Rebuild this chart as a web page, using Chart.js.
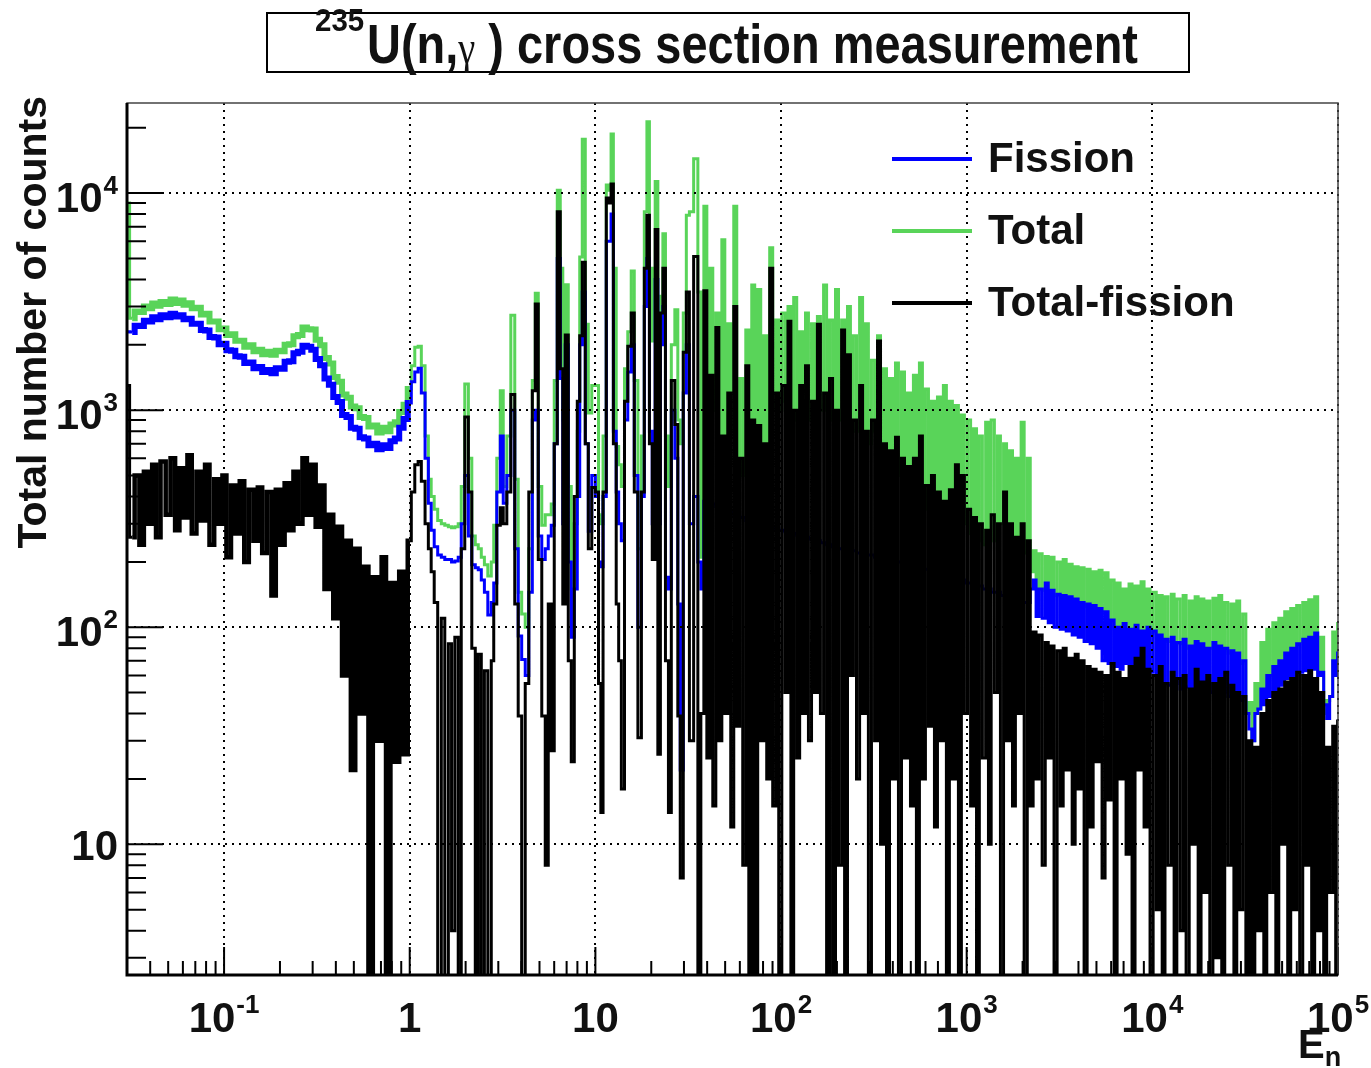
<!DOCTYPE html>
<html>
<head>
<meta charset="utf-8">
<title>235U(n,gamma) cross section measurement</title>
<script src="https://cdn.jsdelivr.net/npm/chart.js@4.4.1/dist/chart.umd.min.js"></script>
<style>
  html, body { margin: 0; padding: 0; background: #fff; }
</style>
</head>
<body>
<canvas id="chart" width="1371" height="1068"></canvas>
<script>
// Neutron energy (eV), bin centres
const energy = [
  // thermal region 0.03 - 1 eV
  0.030,0.032,0.034,0.036,0.038,0.040,0.042,0.044,0.047,0.050,0.053,0.056,0.059,0.062,0.065,0.069,0.073,0.077,0.081,0.086,
  0.091,0.096,0.100,0.106,0.112,0.118,0.125,0.132,0.140,0.148,0.156,0.165,0.175,0.185,0.195,0.206,0.218,0.230,0.243,0.257,
  0.272,0.287,0.303,0.320,0.338,0.357,0.377,0.398,0.420,0.444,0.469,0.495,0.523,0.552,0.583,0.616,0.650,0.687,0.725,0.766,
  0.809,0.854,0.902,0.952,1.000,
  // resolved resonances 1 - 33 eV
  1.04,1.09,1.13,1.18,1.24,1.28,1.33,1.38,1.45,1.51,1.58,1.65,1.71,1.79,1.86,1.93,2.03,2.11,2.21,2.30,
  2.38,2.48,2.57,2.70,2.80,2.87,3.02,3.13,3.25,3.42,3.59,3.77,3.91,4.11,4.27,4.49,4.66,4.83,5.02,5.27,
  5.47,5.68,5.89,6.12,6.35,6.59,6.76,7.01,7.28,7.55,7.85,8.13,8.34,8.66,8.99,9.33,9.80,10.2,10.6,10.8,
  11.2,11.7,12.0,12.3,12.7,13.2,13.5,14.1,14.6,15.3,15.9,16.5,17.4,18.0,18.7,19.2,19.9,20.6,21.4,22.0,
  22.8,23.4,24.3,25.2,26.1,27.5,28.1,29.2,30.3,31.5,32.7,
  // dense resonances 35 eV - 2.2 keV
  35,36.3,37.7,39.1,40.6,42.1,43.7,45.4,47.1,48.9,50.7,52.6,54.6,56.7,58.8,61.0,63.4,65.8,68.3,70.8,
  73.5,76.3,79.2,82.2,85.3,88.5,91.9,95.4,99.0,
  103,107,111,115,119,124,128,133,138,143,149,154,160,166,173,179,186,193,200,208,
  216,224,232,241,250,260,270,280,290,301,313,325,337,350,363,377,391,406,421,437,
  454,471,489,507,526,546,567,588,611,634,658,683,709,735,763,792,822,853,886,919,954,990,
  1030,1070,1110,1150,1190,1240,1290,1330,1380,1440,1490,1550,1610,1670,1730,1800,1860,1930,2000,2080,2160,2240,
  // unresolved region 2.3 - 100 keV
  2320,2410,2500,2600,2700,2800,2900,3010,3130,3250,3370,3500,3630,3770,3910,4060,4210,4370,4540,4710,
  4890,5070,5260,5460,5670,5880,6110,6340,6580,6830,7090,7350,7630,7920,8220,8530,8860,9190,9540,9900,
  10300,10700,11100,11500,11900,12400,12900,13300,13800,14400,14900,15500,16100,16700,17300,18000,18600,19300,20000,20800,
  21600,22400,23200,24100,25000,26000,27000,28000,29000,30100,31300,32500,33700,35000,36300,37700,39100,40600,42100,43700,
  45400,47100,48900,50700,52600,54600,56700,58800,61000,63400,65800,68300,70800,73500,76300,79200,82200,85300,88500,91900,
  95400,99000,100000
];

// Total counts
const total = [
  9000,2650,2850,2830,3000,2950,3100,3030,3150,3080,3230,3120,3200,3060,3110,2950,2960,2760,2780,2560,
  2560,2360,2380,2220,2240,2090,2090,1960,1990,1870,1900,1810,1860,1800,1880,1870,2000,2010,2190,2220,
  2400,2360,2350,2110,1990,1740,1640,1420,1350,1180,1140,1040,1020,930,920,840,850,790,830,800,
  860,880,980,1060,1250,
  1600,1950,1970,1600,760,480,400,350,310,300,295,290,287,290,300,445,1320,600,263,240,
  230,210,194,172,200,295,600,1230,445,760,2740,480,145,115,100,230,1370,3460,445,295,
  330,330,370,1370,10300,4500,900,3780,445,150,300,800,5080,17700,2490,970,1300,1300,330,300,
  760,10900,10300,18700,4500,680,560,445,1550,2300,4370,1370,230,760,8200,21300,4500,2080,11300,1370,
  3350,6500,760,445,2000,2900,900,700,2800,7900,8200,
  14400,3500,210,8700,1000,4500,1000,2800,600,6100,600,2500,800,8700,500,1400,500,2340,700,3770,
  700,3600,550,2200,600,5600,1000,2600,1000,2800,1100,3000,800,3300,900,2300,1000,2800,900,2500,
  900,2700,1000,3770,1000,2600,900,3600,900,2600,1500,3000,800,2200,800,3300,700,2500,700,1700,
  800,2200,600,1550,550,1400,550,1650,500,1500,450,1200,450,1450,500,1650,350,1250,350,1100,
  350,1150,320,1300,320,1100,380,1050,380,950,300,900,270,820,250,760,240,880,250,900,
  250,760,300,700,250,650,220,600,240,880,220,600,180,
  225,150,218,148,212,145,210,140,200,138,205,135,195,132,190,128,188,125,185,124,
  180,120,183,116,178,106,165,98,160,100,150,96,158,98,155,94,162,95,150,94,
  145,90,140,86,138,86,142,84,135,84,140,80,132,82,138,82,135,78,132,80,
  136,80,140,78,130,76,128,74,132,68,115,40,45,30,55,42,85,52,98,60,
  105,66,110,72,118,76,122,82,126,86,130,88,134,90,138,60,90,40,46,48,
  95,70,104
];

// Fission counts
const fission = [
  2300,2290,2450,2440,2580,2560,2680,2620,2740,2680,2780,2700,2740,2620,2640,2500,2500,2340,2330,2170,
  2160,2010,2020,1890,1880,1770,1760,1650,1660,1560,1580,1500,1530,1480,1560,1550,1670,1680,1830,1860,
  1980,1960,1900,1720,1610,1400,1310,1150,1090,950,930,830,820,750,740,690,700,660,690,670,
  720,740,830,910,1080,
  1350,1500,1560,1200,600,373,280,235,215,210,205,205,200,202,210,300,500,263,194,188,
  184,165,145,114,130,160,420,760,373,500,1000,230,91,71,60,145,900,1000,263,205,
  230,263,295,700,5000,1400,300,2000,200,90,150,400,2000,3500,700,277,500,400,200,190,
  400,6000,6000,8000,800,420,300,250,900,1500,2000,500,100,400,3000,5000,800,300,4000,300,
  2000,3000,170,150,1000,600,128,22,1200,2000,300,
  400,200,150,380,380,370,370,360,360,350,350,340,340,330,330,320,320,310,310,300,
  300,300,295,295,290,290,285,285,280,280,275,275,270,270,265,265,260,260,255,255,
  250,250,245,245,240,240,235,235,230,230,230,225,225,225,220,220,220,215,215,215,
  210,210,210,205,205,205,200,200,200,195,195,195,190,190,190,185,185,185,180,180,
  180,175,175,175,170,170,170,165,165,165,160,160,160,155,155,155,150,150,150,145,
  145,145,140,140,140,135,135,135,130,130,130,130,150,
  165,112,150,110,160,105,148,100,142,98,140,96,138,92,135,90,130,86,128,84,
  126,80,122,70,118,68,108,66,100,64,104,68,98,66,102,64,96,66,100,62,
  96,58,92,56,88,54,90,55,85,52,88,53,82,50,86,52,84,50,80,50,
  85,52,82,50,80,48,78,50,76,46,70,40,34,30,40,42,52,44,60,48,
  66,50,70,54,76,58,80,60,84,62,88,63,90,64,94,60,62,44,38,48,
  70,60,76
];

// Total - fission counts
const totalMinusFission = [
  1300,260,500,240,520,300,560,260,580,330,600,280,540,320,620,270,520,310,560,240,
  480,300,500,210,450,270,470,200,430,250,440,220,420,140,430,240,460,280,520,300,
  600,330,560,290,450,150,330,110,290,60,250,22,230,40,190,1,170,30,210,1,
  160,24,180,26,250,
  420,560,580,470,300,230,180,130,1,110,1,84,4,90,1,230,930,420,80,1,
  75,1,63,1,70,128,295,355,300,420,1180,128,39,1,55,420,1230,3080,205,39,
  8,128,27,700,8200,1550,128,2220,70,24,400,1100,2200,4800,700,230,440,420,55,14,
  420,9500,9000,11000,700,128,70,18,1100,1970,2800,420,31,420,4500,7900,700,205,6800,26,
  2800,4500,70,14,1370,860,39,7,1850,3500,30,
  5100,1,40,3550,25,1450,15,2400,30,760,40,1200,12,3000,35,600,8,1600,1,900,
  1,850,30,700,20,4500,15,1200,1,1300,50,2570,1,1000,25,1300,40,1600,30,1100,
  50,2490,40,1200,1,1400,1,1000,8,2340,1,1800,60,900,20,1300,40,800,1,900,
  30,2080,10,700,1,650,20,750,1,600,25,550,15,600,1,760,20,450,35,500,
  12,420,30,380,1,430,20,560,1,500,40,350,15,320,1,300,25,280,10,330,
  50,300,1,420,30,300,15,260,40,300,1,250,15,
  95,20,92,8,85,25,82,1,78,15,80,22,72,10,75,18,70,1,66,12,
  64,24,62,7,60,16,68,1,62,20,58,9,66,1,72,22,80,12,64,1,
  60,5,66,1,55,8,62,1,58,4,60,1,52,10,64,1,56,6,60,1,
  55,3,58,1,62,8,54,1,50,5,48,1,30,1,28,4,40,1,46,6,
  50,1,52,10,56,1,58,5,62,1,60,8,63,1,58,4,50,1,28,6,
  35,1,37
];

// Axis labels
const xTickValues = [0.1, 1, 10, 100, 1000, 10000, 100000];
const xTickBase = ['10', '1', '10', '10', '10', '10', '10'];
const xTickExp = ['-1', '', '', '2', '3', '4', '5'];
const yTickValues = [10, 100, 1000, 10000];
const yTickBase = ['10', '10', '10', '10'];
const yTickExp = ['', '2', '3', '4'];

const SANS = '"Liberation Sans", Arial, Helvetica, sans-serif';
const SERIF = '"Liberation Serif", "Times New Roman", serif';

function toPoints(values) {
  return values.map((v, i) => ({ x: energy[i], y: v }));
}

// 1..9 x 10^n ticks, like the ROOT axis
function decadeTicks(scale) {
  const ticks = [];
  const lo = Math.floor(Math.log10(scale.min));
  const hi = Math.ceil(Math.log10(scale.max));
  for (let e = lo; e <= hi; e++) {
    for (let s = 1; s <= 9; s++) {
      const v = s * Math.pow(10, e);
      if (v >= scale.min * 0.999 && v <= scale.max * 1.001) ticks.push({ value: v, major: s === 1 });
    }
  }
  scale.ticks = ticks;
}

function powerText(ctx, base, exp, x, yBase, yExp, align) {
  ctx.font = 'bold 42px ' + SANS;
  const wb = ctx.measureText(base).width;
  ctx.font = 'bold 26px ' + SANS;
  const we = exp ? ctx.measureText(exp).width + 1 : 0;
  const left = align === 'center' ? x - (wb + we) / 2 : x - (wb + we);
  ctx.textAlign = 'left';
  ctx.font = 'bold 42px ' + SANS;
  ctx.fillText(base, left, yBase);
  if (exp) {
    ctx.font = 'bold 26px ' + SANS;
    ctx.fillText(exp, left + wb + 1, yExp);
  }
}

const rootStyle = {
  id: 'rootStyle',
  afterDraw(chart) {
    const { ctx, chartArea: a } = chart;
    const xs = chart.scales.x, ys = chart.scales.y;
    ctx.save();

    // tick marks inside the frame
    ctx.strokeStyle = '#000';
    ctx.lineWidth = 2;
    ctx.beginPath();
    xs.ticks.forEach(t => {
      const px = xs.getPixelForValue(t.value);
      const len = t.major ? 28 : 14;
      ctx.moveTo(px, a.bottom);
      ctx.lineTo(px, a.bottom - len);
    });
    ys.ticks.forEach(t => {
      const py = ys.getPixelForValue(t.value);
      const len = t.major ? 36 : 19;
      ctx.moveTo(a.left, py);
      ctx.lineTo(a.left + len, py);
    });
    ctx.stroke();

    // frame
    ctx.lineWidth = 1.5;
    ctx.strokeStyle = '#444';
    ctx.strokeRect(a.left, a.top, a.right - a.left, a.bottom - a.top);
    ctx.lineWidth = 3;
    ctx.strokeStyle = '#000';
    ctx.beginPath();
    ctx.moveTo(a.left, a.top);
    ctx.lineTo(a.left, a.bottom);
    ctx.lineTo(a.right, a.bottom);
    ctx.stroke();

    // tick labels
    ctx.fillStyle = '#111';
    ctx.textBaseline = 'alphabetic';
    xTickValues.forEach((v, i) => {
      powerText(ctx, xTickBase[i], xTickExp[i], xs.getPixelForValue(v), 1032, 1013, 'center');
    });
    yTickValues.forEach((v, i) => {
      const py = ys.getPixelForValue(v);
      const hasExp = yTickExp[i] !== '';
      powerText(ctx, yTickBase[i], yTickExp[i], 118, py + (hasExp ? 19 : 16), py + 1, 'right');
    });

    // axis titles
    ctx.save();
    ctx.translate(46, 96);
    ctx.rotate(-Math.PI / 2);
    ctx.textAlign = 'right';
    ctx.font = 'bold 41px ' + SANS;
    ctx.fillText('Total number of counts', 0, 0);
    ctx.restore();
    ctx.textAlign = 'left';
    ctx.font = 'bold 40px ' + SANS;
    ctx.fillText('E', 1298, 1058);
    const wE = ctx.measureText('E').width;
    ctx.font = 'bold 27px ' + SANS;
    ctx.fillText('n', 1298 + wE, 1066);

    // legend
    const rows = [159, 231, 303];
    chart.data.datasets.forEach((ds, i) => {
      ctx.strokeStyle = ds.borderColor;
      ctx.lineWidth = 4;
      ctx.beginPath();
      ctx.moveTo(892, rows[i]);
      ctx.lineTo(972, rows[i]);
      ctx.stroke();
      ctx.fillStyle = '#111';
      ctx.font = 'bold 42px ' + SANS;
      ctx.textBaseline = 'middle';
      ctx.fillText(ds.label, 988, rows[i] + 1);
    });
    ctx.textBaseline = 'alphabetic';

    // title box, condensed bold text like the original
    ctx.lineWidth = 2;
    ctx.strokeStyle = '#000';
    ctx.strokeRect(267, 13, 922, 59);
    ctx.fillStyle = '#111';
    ctx.font = 'bold 31px ' + SANS;
    ctx.save();
    ctx.translate(315, 31);
    ctx.scale(0.95, 1);
    ctx.fillText('235', 0, 0);
    ctx.restore();
    const parts = [
      { t: 'U(n,', f: 'bold 56px ' + SANS },
      { t: '\u03b3', f: '46px ' + SERIF },
      { t: ' ) cross section measurement', f: 'bold 56px ' + SANS }
    ];
    let w = 0;
    parts.forEach(p => { ctx.font = p.f; p.w = ctx.measureText(p.t).width; w += p.w; });
    ctx.save();
    ctx.translate(367, 63);
    ctx.scale(771 / w, 1);
    let xx = 0;
    parts.forEach(p => { ctx.font = p.f; ctx.fillText(p.t, xx, 0); xx += p.w; });
    ctx.restore();

    ctx.restore();
  }
};

const gridColor = c => (c.tick && c.tick.major ? '#000' : 'rgba(0,0,0,0)');
// the thermal part of the spectrum is a noisy band, drawn a bit thicker
const thermalWidth = w => c => (c.p1.parsed.x <= 1.0 && c.p0.parsed.x > 0.031 ? w : undefined);

new Chart(document.getElementById('chart'), {
  type: 'line',
  data: {
    datasets: [
      { label: 'Fission', data: toPoints(fission), borderColor: '#0000ff', order: 1,
        segment: { borderWidth: thermalWidth(6) } },
      { label: 'Total', data: toPoints(total), borderColor: '#59d459', order: 2,
        segment: { borderWidth: thermalWidth(6) } },
      { label: 'Total-fission', data: toPoints(totalMinusFission), borderColor: '#000000', order: 0,
        segment: { borderWidth: thermalWidth(4.5) } }
    ]
  },
  options: {
    responsive: false,
    animation: false,
    devicePixelRatio: 1,
    events: [],
    layout: { padding: { left: 127, top: 103, right: 33, bottom: 93 } },
    datasets: {
      line: { stepped: 'middle', borderWidth: 3, pointRadius: 0, fill: false, clip: 0, borderJoinStyle: 'miter' }
    },
    plugins: { legend: { display: false }, title: { display: false }, tooltip: { enabled: false } },
    scales: {
      x: {
        type: 'logarithmic', min: 0.03, max: 100000,
        afterBuildTicks: decadeTicks,
        ticks: { display: false },
        border: { display: false, dash: [2, 5] },
        grid: { z: 1, drawTicks: false, lineWidth: 2, color: gridColor }
      },
      y: {
        type: 'logarithmic', min: 2.5, max: 26000,
        afterBuildTicks: decadeTicks,
        ticks: { display: false },
        border: { display: false, dash: [2, 5] },
        grid: { z: 1, drawTicks: false, lineWidth: 2, color: gridColor }
      }
    }
  },
  plugins: [rootStyle]
});
</script>
</body>
</html>
